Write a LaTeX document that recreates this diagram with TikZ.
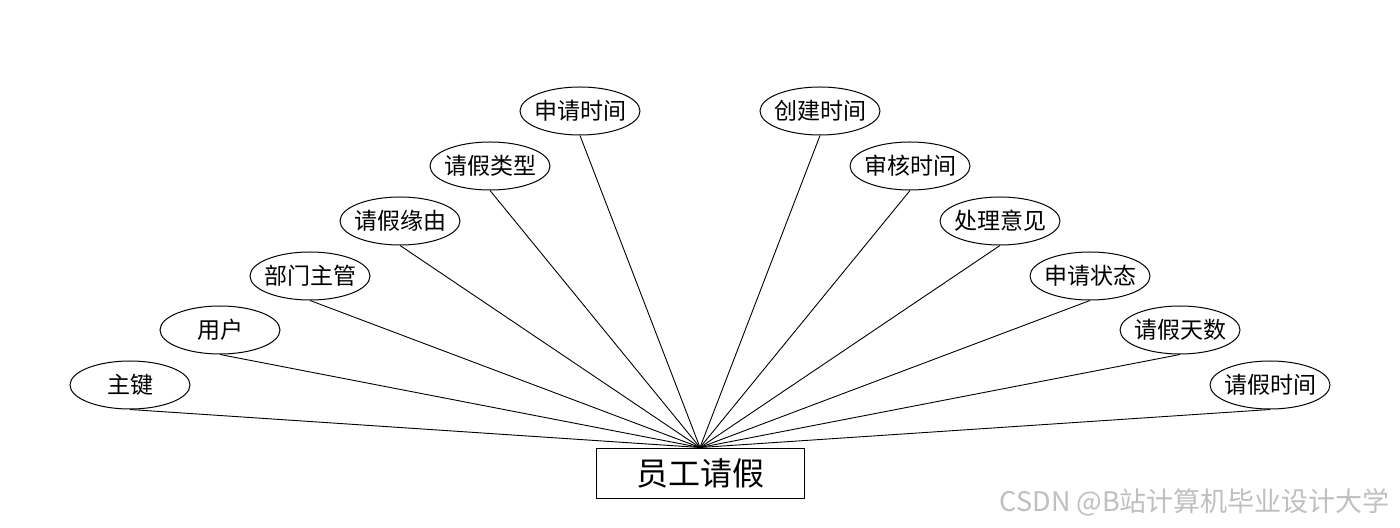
\documentclass[tikz,border=0pt]{standalone}
\usepackage{fontspec}
\setmainfont{Noto Sans CJK SC}
\usepackage{xcolor}
\usetikzlibrary{shapes.geometric}

\begin{document}
\begin{tikzpicture}[
  x=0.5pt, y=-0.5pt,
  font=\fontsize{11.5}{13}\selectfont,
  attr/.style={ellipse, draw, line width=0.5pt, minimum width=60pt, minimum height=24pt, inner xsep=-2pt, inner ysep=0pt},
  entity/.style={draw, line width=0.5pt, minimum width=104pt, minimum height=25pt, inner sep=0pt, font=\fontsize{16}{19}\selectfont},
  link/.style={line width=0.45pt}
]
  \useasboundingbox (0,0) rectangle (1400,528);
  \node[entity] (leave) at (700,473) {员工请假};
  % left side
  \node[attr] (key) at (130,385) {主键};
  \node[attr] (user) at (220,330) {用户};
  \node[attr] (dept) at (310,276) {部门主管};
  \node[attr] (reason) at (400,221) {请假缘由};
  \node[attr] (type) at (490,166) {请假类型};
  \node[attr] (apply) at (580,111) {申请时间};
  % right side
  \node[attr] (create) at (820,111) {创建时间};
  \node[attr] (audit) at (910,166) {审核时间};
  \node[attr] (opinion) at (1000,221) {处理意见};
  \node[attr] (state) at (1090,276) {申请状态};
  \node[attr] (days) at (1180,330) {请假天数};
  \node[attr] (when) at (1270,385) {请假时间};
  \draw[link] (leave.north) -- (key.south);
  \draw[link] (leave.north) -- (user.south);
  \draw[link] (leave.north) -- (dept.south);
  \draw[link] (leave.north) -- (reason.south);
  \draw[link] (leave.north) -- (type.south);
  \draw[link] (leave.north) -- (apply.south);
  \draw[link] (leave.north) -- (create.south);
  \draw[link] (leave.north) -- (audit.south);
  \draw[link] (leave.north) -- (opinion.south);
  \draw[link] (leave.north) -- (state.south);
  \draw[link] (leave.north) -- (days.south);
  \draw[link] (leave.north) -- (when.south);
  \node[anchor=east, text=black!25, font=\fontsize{13.5}{15}\selectfont] (mark) at (1397,502) {CSDN @B站计算机毕业设计大学};
\end{tikzpicture}
\end{document}
